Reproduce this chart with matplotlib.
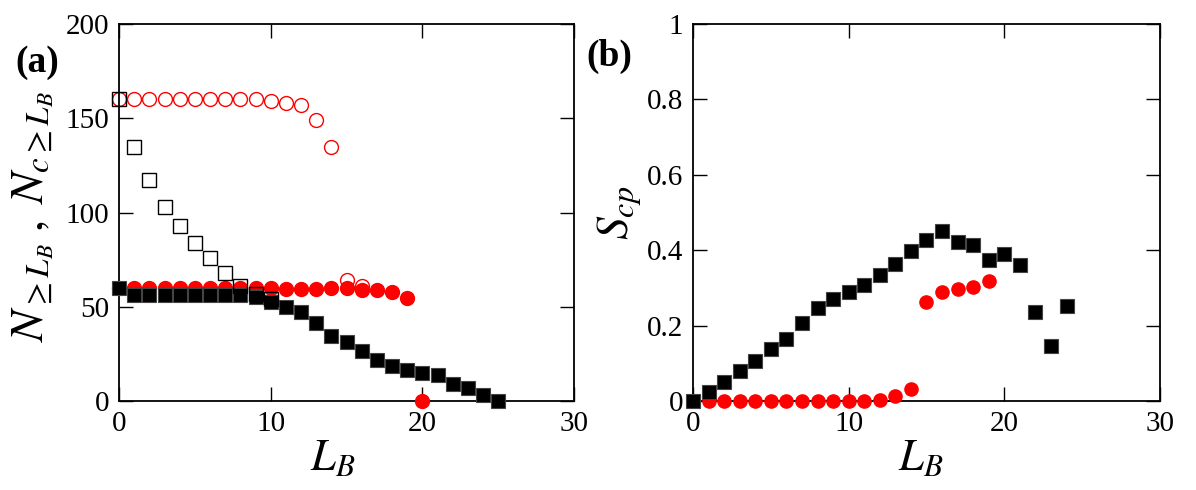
import matplotlib
matplotlib.use("Agg")
import matplotlib.pyplot as plt

plt.rcParams['font.family'] = ['Liberation Serif', 'DejaVu Serif']
plt.rcParams['mathtext.fontset'] = 'stix'

# Panel (a): counts vs L_B
lb_open_sq = [0, 1, 2, 3, 4, 5, 6, 7, 8, 9, 10]
n_open_sq = [160, 135, 117, 103, 93, 84, 76, 68, 61, 57, 54]

lb_open_ci = [0, 1, 2, 3, 4, 5, 6, 7, 8, 9, 10, 11, 12, 13, 14, 15, 16]
n_open_ci = [160, 160, 160, 160, 160, 160, 160, 160, 160, 160, 159, 158, 157, 149, 135, 64, 61]

lb_fill_sq = list(range(26))
n_fill_sq = [60, 56, 56, 56, 56, 56, 56, 56, 56, 55, 52.6, 50, 47.4, 41.5, 34.5, 31.5,
             26.7, 21.7, 18.6, 16.4, 15, 13.8, 8.8, 6.7, 3.2, 0]

lb_fill_ci = list(range(21))
n_fill_ci = [60, 60, 60, 60, 60, 60, 60, 60, 60, 60, 60, 59.5, 59.2, 59.2, 59.8, 59.8,
             58.9, 58.9, 58, 54.8, 0]

# Panel (b): S_cp vs L_B
lb_b_sq = list(range(25))
s_b_sq = [0, 0.025, 0.051, 0.08, 0.107, 0.137, 0.165, 0.208, 0.247, 0.27, 0.288, 0.308,
          0.334, 0.363, 0.399, 0.427, 0.452, 0.423, 0.414, 0.374, 0.39, 0.361, 0.235,
          0.146, 0.253]

lb_b_ci = list(range(1, 20))
s_b_ci = [0, 0, 0, 0, 0, 0, 0, 0, 0, 0, 0.001, 0.003, 0.013, 0.033, 0.262, 0.288,
          0.296, 0.302, 0.319]

fig = plt.figure(figsize=(11.96, 4.9), dpi=100)
ax1 = fig.add_axes([0.0995, 0.1816, 0.3805, 0.7694])
ax2 = fig.add_axes([0.5794, 0.1816, 0.3905, 0.7694])

ms = 10
ax1.plot(lb_open_ci, n_open_ci, 'o', ms=ms, mfc='none', mec='red', mew=1.0, clip_on=False, zorder=2)
ax1.plot(lb_fill_ci, n_fill_ci, 'o', ms=ms, color='red', mec='red', clip_on=False, zorder=3)
ax1.plot(lb_fill_sq, n_fill_sq, 's', ms=ms - 0.5, color='black', mec='#444444', mew=0.8, clip_on=False, zorder=4)
ax1.plot(lb_open_sq, n_open_sq, 's', ms=ms - 0.5, mfc='none', mec='black', mew=1.0, clip_on=False, zorder=5)

ax2.plot(lb_b_sq, s_b_sq, 's', ms=ms - 0.5, color='black', mec='#444444', mew=0.8, clip_on=False, zorder=4)
ax2.plot(lb_b_ci, s_b_ci, 'o', ms=ms - 0.5, color='red', mec='red', clip_on=False, zorder=3)

ax1.set_xlim(0, 30)
ax1.set_ylim(0, 200)
ax1.set_xticks([0, 10, 20, 30])
ax1.set_yticks([0, 50, 100, 150, 200])

ax2.set_xlim(0, 30)
ax2.set_ylim(0, 1)
ax2.set_xticks([0, 10, 20, 30])
ax2.set_yticks([0, 0.2, 0.4, 0.6, 0.8, 1])
ax2.set_yticklabels(['0', '0.2', '0.4', '0.6', '0.8', '1'])

for ax in (ax1, ax2):
    ax.tick_params(direction='in', length=10, width=1, top=True, right=True,
                   labelsize=21, pad=7)
    for sp in ax.spines.values():
        sp.set_linewidth(1.3)
    ax.set_xlabel(r'$L_B$', fontsize=32)

ax1.xaxis.set_label_coords(0.47, -0.1)
ax2.xaxis.set_label_coords(0.487, -0.1)
ax1.xaxis.label.set_va('top')
ax2.xaxis.label.set_va('top')

ax1.set_ylabel(r'$N_{\geq L_B}\;,\;N_{c\geq L_B}$', fontsize=34)
ax1.yaxis.set_label_coords(-0.138, 0.49)
ax2.set_ylabel(r'$S_{cp}$', fontsize=33)
ax2.yaxis.set_label_coords(-0.105, 0.5)

fig.text(37 / 1196, 1 - 62 / 490, '(a)', fontsize=27, fontweight='bold', ha='center', va='center')
fig.text(609 / 1196, 1 - 56 / 490, '(b)', fontsize=27, fontweight='bold', ha='center', va='center')

fig.savefig('out.png', dpi=100)
